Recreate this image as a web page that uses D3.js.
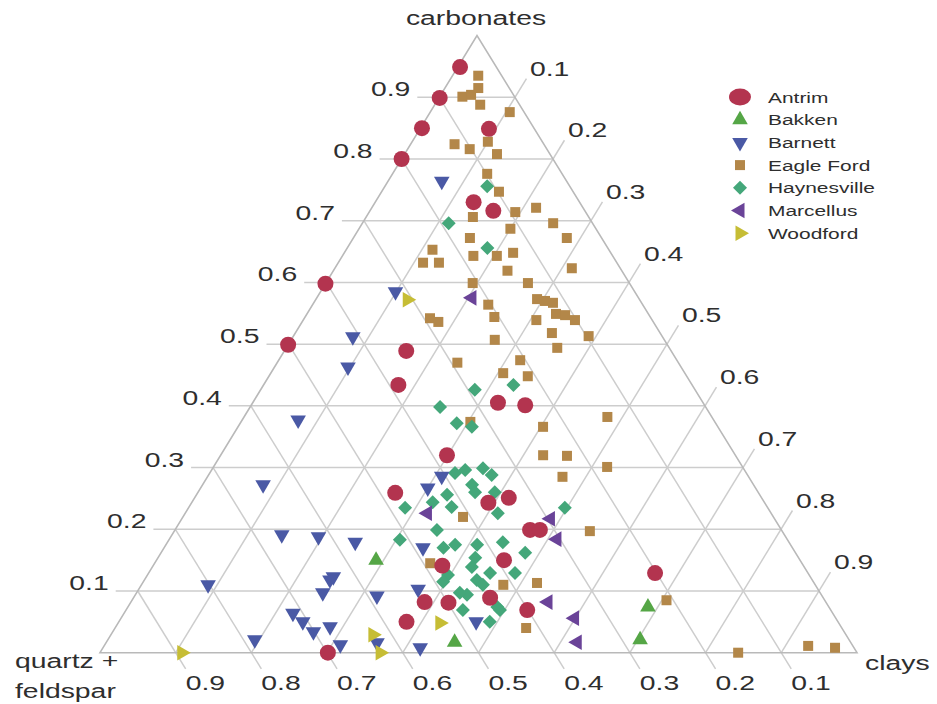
<!DOCTYPE html>
<html>
<head>
<meta charset="UTF-8">
<script src="https://d3js.org/d3.v7.min.js"></script>
<style>
  body { margin: 0; background: #fff; }
  text { font-family: "Liberation Sans", Arial, sans-serif; fill: #2e2e2e; }
</style>
</head>
<body>
<div id="my_dataviz"></div>
<script>

// every point is [carbonates, clays]; quartz + feldspar is the rest
var antrim = [
  [0.949, 0.003], [0.899, 0.001], [0.850, 0.002], [0.800, 0.000], [0.849, 0.091],
  [0.730, 0.130], [0.716, 0.163], [0.598, 0.000], [0.499, 0.000], [0.489, 0.161],
  [0.434, 0.178], [0.405, 0.324], [0.401, 0.362], [0.320, 0.299], [0.259, 0.261],
  [0.243, 0.392], [0.251, 0.415], [0.199, 0.469], [0.199, 0.482], [0.150, 0.459],
  [0.141, 0.382], [0.082, 0.388], [0.081, 0.420], [0.089, 0.471], [0.069, 0.530],
  [0.050, 0.380], [0.129, 0.669], [0.000, 0.301]
];
var bakken = [
  [0.150, 0.290], [0.017, 0.460], [0.021, 0.703], [0.074, 0.687]
];
var barnett = [
  [0.764, 0.071], [0.585, 0.099], [0.512, 0.079], [0.463, 0.097], [0.377, 0.074],
  [0.272, 0.080], [0.191, 0.145], [0.188, 0.195], [0.179, 0.248], [0.286, 0.309],
  [0.267, 0.300], [0.170, 0.342], [0.123, 0.247], [0.110, 0.088], [0.118, 0.245],
  [0.097, 0.246], [0.064, 0.223], [0.050, 0.243], [0.034, 0.265], [0.042, 0.283],
  [0.021, 0.194], [0.013, 0.311], [0.092, 0.320], [0.016, 0.358], [0.008, 0.419],
  [0.103, 0.369], [0.050, 0.472]
];
var eagleFord = [
  [0.935, 0.034], [0.915, 0.044], [0.901, 0.030], [0.904, 0.040], [0.888, 0.060],
  [0.876, 0.105], [0.824, 0.058], [0.816, 0.082], [0.828, 0.100], [0.808, 0.122],
  [0.776, 0.125], [0.747, 0.155], [0.706, 0.141], [0.714, 0.193], [0.721, 0.217],
  [0.696, 0.252], [0.672, 0.282], [0.687, 0.200], [0.672, 0.154], [0.653, 0.114],
  [0.632, 0.112], [0.632, 0.133], [0.643, 0.173], [0.643, 0.204], [0.648, 0.223],
  [0.619, 0.230], [0.623, 0.313], [0.599, 0.194], [0.599, 0.267], [0.573, 0.292],
  [0.570, 0.304], [0.567, 0.316], [0.564, 0.232], [0.544, 0.250], [0.542, 0.166],
  [0.536, 0.180], [0.539, 0.308], [0.549, 0.329], [0.547, 0.342], [0.539, 0.359],
  [0.518, 0.339], [0.513, 0.390], [0.507, 0.269], [0.494, 0.358], [0.470, 0.238],
  [0.474, 0.319], [0.453, 0.307], [0.448, 0.342], [0.382, 0.480], [0.374, 0.303],
  [0.366, 0.403], [0.320, 0.426], [0.319, 0.458], [0.301, 0.520], [0.285, 0.469],
  [0.220, 0.370], [0.197, 0.549], [0.113, 0.521], [0.040, 0.543], [0.085, 0.706],
  [0.000, 0.843], [0.011, 0.930], [0.008, 0.967], [0.145, 0.364], [0.110, 0.478]
];
var haynesville = [
  [0.756, 0.135], [0.696, 0.114], [0.656, 0.185], [0.426, 0.283], [0.434, 0.330],
  [0.398, 0.251], [0.372, 0.286], [0.366, 0.309], [0.296, 0.335], [0.291, 0.324],
  [0.299, 0.357], [0.288, 0.374], [0.272, 0.356], [0.260, 0.366], [0.260, 0.392],
  [0.256, 0.331], [0.244, 0.318], [0.236, 0.347], [0.235, 0.286], [0.226, 0.413],
  [0.235, 0.497], [0.199, 0.346], [0.183, 0.305], [0.170, 0.369], [0.175, 0.382],
  [0.175, 0.411], [0.179, 0.443], [0.162, 0.481], [0.154, 0.419], [0.139, 0.422],
  [0.129, 0.451], [0.129, 0.484], [0.126, 0.397], [0.115, 0.396], [0.118, 0.439],
  [0.110, 0.451], [0.094, 0.438], [0.097, 0.427], [0.069, 0.445], [0.074, 0.488],
  [0.050, 0.490], [0.069, 0.494]
];
var marcellus = [
  [0.575, 0.205], [0.226, 0.320], [0.217, 0.487], [0.184, 0.512], [0.082, 0.551],
  [0.056, 0.599], [0.017, 0.622]
];
var woodford = [
  [0.000, 0.108], [0.572, 0.121], [0.029, 0.346], [0.000, 0.370], [0.048, 0.425]
];

var gridValues = [0.1, 0.2, 0.3, 0.4, 0.5, 0.6, 0.7, 0.8, 0.9];
var gridLabels = ["0.1", "0.2", "0.3", "0.4", "0.5", "0.6", "0.7", "0.8", "0.9"];

var series = [
  {name: "Antrim", data: antrim, color: "#b3344f", shape: "circle"},
  {name: "Bakken", data: bakken, color: "#55a646", shape: "up"},
  {name: "Barnett", data: barnett, color: "#4a59a5", shape: "down"},
  {name: "Eagle Ford", data: eagleFord, color: "#b38749", shape: "square"},
  {name: "Haynesville", data: haynesville, color: "#44a77a", shape: "diamond"},
  {name: "Marcellus", data: marcellus, color: "#6a4398", shape: "left"},
  {name: "Woodford", data: woodford, color: "#c6bd35", shape: "right"}
];
// drawing order, antrim ends up on top
var drawOrder = ["Eagle Ford", "Haynesville", "Barnett", "Bakken", "Marcellus", "Woodford", "Antrim"];

var width = 937, height = 704;
var stretch = 1.35; // the lettering in the figure is wide

var svg = d3.select("#my_dataviz")
  .append("svg")
    .attr("width", width)
    .attr("height", height);

// triangle corners: quartz (bottom left), carbonates (apex), clays (bottom right)
var qf = {x: 100, y: 652.7}, apex = {x: 477, y: 35.6}, cl = {x: 857, y: 652.7};

var yScale = d3.scaleLinear().domain([0, 1]).range([qf.y, apex.y]);
var edgeX = d3.scaleLinear().domain([0, 1]).range([qf.x, apex.x]);
var clayX = d3.scaleLinear().domain([0, 1]).range([0, cl.x - qf.x]);

function pos(carb, clay) {
  return [edgeX(carb) + clayX(clay), yScale(carb)];
}

function label(x, y, str, anchor, size) {
  svg.append("text")
    .attr("transform", "translate(" + x + "," + y + ") scale(" + stretch + ",1)")
    .attr("text-anchor", anchor)
    .style("font-size", size + "px")
    .text(str);
}

var grid = svg.append("g")
  .attr("stroke", "#cdcdcd")
  .attr("stroke-width", 1.5)
  .attr("fill", "none");

function seg(a, b) {
  grid.append("line")
    .attr("x1", a[0]).attr("y1", a[1])
    .attr("x2", b[0]).attr("y2", b[1]);
}

// unit directions for the ticks outside the triangle
var lenL = Math.hypot(apex.x - qf.x, apex.y - qf.y);
var upRight = [(apex.x - qf.x) / lenL, (apex.y - qf.y) / lenL];
var lenR = Math.hypot(cl.x - apex.x, cl.y - apex.y);
var downRight = [(cl.x - apex.x) / lenR, (cl.y - apex.y) / lenR];

gridValues.forEach(function(v, i) {
  // carbonates
  var a = pos(v, 0), b = pos(v, 1 - v);
  seg([a[0] - 22, a[1]], b);
  label(a[0] - 29, a[1] - 1, gridLabels[i], "end", 21);

  // clays
  var c = pos(0, v), d = pos(1 - v, v);
  var dEnd = [d[0] + upRight[0] * 22, d[1] + upRight[1] * 22];
  seg(c, dEnd);
  label(dEnd[0] + 3.5, dEnd[1] - 3, gridLabels[i], "start", 21);

  // quartz + feldspar
  var e = pos(1 - v, 0), f = pos(0, 1 - v);
  var fEnd = [f[0] + downRight[0] * 19, f[1] + downRight[1] * 19];
  seg(e, fEnd);
  label(fEnd[0], fEnd[1] + 21, gridLabels[i], "start", 21);
});

svg.append("path")
  .attr("d", "M" + qf.x + "," + qf.y + "L" + apex.x + "," + apex.y + "L" + cl.x + "," + cl.y + "Z")
  .attr("fill", "none")
  .attr("stroke", "#b9b9b9")
  .attr("stroke-width", 1.6);

label(476, 25, "carbonates", "middle", 21);
label(865, 670, "clays", "start", 21);
label(15, 668, "quartz +", "start", 21);
label(15, 698, "feldspar", "start", 21);

var rotation = {up: 0, down: 180, left: -90, right: 90};

function drawMark(g, s, x, y, legend) {
  if (s.shape == "circle") {
    g.append("ellipse")
      .attr("cx", x).attr("cy", y)
      .attr("rx", legend ? 11 : 8)
      .attr("ry", legend ? 8.5 : 8)
      .attr("fill", s.color);
  } else if (s.shape == "square") {
    g.append("path")
      .attr("d", d3.symbol(d3.symbolSquare, 100)())
      .attr("transform", "translate(" + x + "," + y + ")")
      .attr("fill", s.color);
  } else if (s.shape == "diamond") {
    g.append("path")
      .attr("d", d3.symbol(d3.symbolSquare, 98)())
      .attr("transform", "translate(" + x + "," + y + ") rotate(45)")
      .attr("fill", s.color);
  } else {
    g.append("path")
      .attr("d", d3.symbol(d3.symbolTriangle, 105)())
      .attr("transform", "translate(" + x + "," + y + ") rotate(" + rotation[s.shape] + ")")
      .attr("fill", s.color);
  }
}

var marks = svg.append("g");
drawOrder.forEach(function(name) {
  var s = series.find(function(d) { return d.name == name; });
  s.data.forEach(function(d) {
    var p = pos(d[0], d[1]);
    drawMark(marks, s, p[0], p[1], false);
  });
});

// legend
var legend = svg.append("g");
series.forEach(function(s, i) {
  var y = 97 + i * 22.7;
  drawMark(legend, s, 740, y, true);
  legend.append("text")
    .attr("transform", "translate(768," + (y + 5.5) + ") scale(" + stretch + ",1)")
    .style("font-size", "15.5px")
    .text(s.name);
});

</script>
</body>
</html>
